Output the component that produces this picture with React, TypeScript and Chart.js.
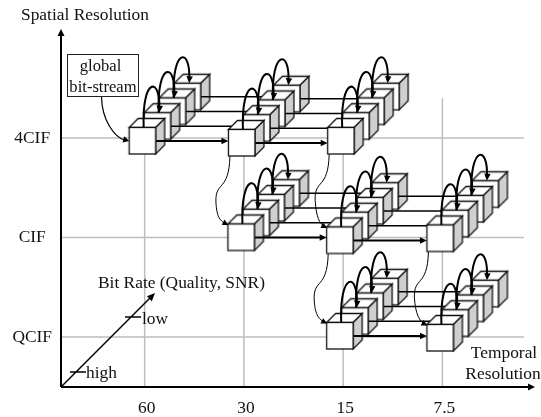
import React, { useEffect, useRef } from "react";
import { Chart, registerables } from "chart.js";

Chart.register(...registerables);

// Axis categories
const temporalLabels = ["60", "30", "15", "7.5"];
const spatialLabels = ["QCIF", "CIF", "4CIF"];

// Front (highest-rate) cube of each stack, in axis units (temporal index, spatial index)
const row4CifX = [-0.02, 0.98, 1.98];
const row4CifY = [1.97, 1.95, 1.97];
const rowCifX = [0.975, 1.97, 2.98];
const rowCifY = [1.0, 0.97, 0.99];
const rowQcifX = [1.97, 2.98];
const rowQcifY = [0.01, -0.01];

// Bit-rate (quality) layers per stack, and the step of each layer in axis units
const qualityLayers = [3, 2, 1, 0];
const layerStepX = 0.151;
const layerStepY = 0.148;

// Thin spatial down-links: [from row, from col, to row, to col]
const spatialLinks = [
  [0, 1, 1, 0],
  [0, 2, 1, 1],
  [1, 1, 2, 0],
  [1, 2, 2, 1],
];

const rowsX = [row4CifX, rowCifX, rowQcifX];
const rowsY = [row4CifY, rowCifY, rowQcifY];

const SERIF = '"Liberation Serif", "Times New Roman", serif';
const XMIN = -0.843;
const XMAX = 3.933;
const YMIN = -0.5025;
const YMAX = 3.095;

function makeCube(): HTMLCanvasElement {
  const c = document.createElement("canvas");
  c.width = 50;
  c.height = 50;
  const g = c.getContext("2d")!;
  const l = 11.5, t = 11.5, s = 26.5, dx = 9, dy = 9;
  g.lineWidth = 1.3;
  g.strokeStyle = "#111";
  g.lineJoin = "miter";
  g.fillStyle = "#fff";
  g.beginPath();
  g.moveTo(l, t);
  g.lineTo(l + dx, t - dy);
  g.lineTo(l + s + dx, t - dy);
  g.lineTo(l + s, t);
  g.closePath();
  g.fill();
  g.stroke();
  g.fillStyle = "#cfcfcf";
  g.beginPath();
  g.moveTo(l + s, t);
  g.lineTo(l + s + dx, t - dy);
  g.lineTo(l + s + dx, t + s - dy);
  g.lineTo(l + s, t + s);
  g.closePath();
  g.fill();
  g.stroke();
  g.fillStyle = "#fff";
  g.fillRect(l, t, s, s);
  g.strokeRect(l, t, s, s);
  return c;
}

function arrowHead(ctx: CanvasRenderingContext2D, fx: number, fy: number, x: number, y: number, len = 7, half = 3.2) {
  const a = Math.atan2(y - fy, x - fx);
  ctx.save();
  ctx.translate(x, y);
  ctx.rotate(a);
  ctx.beginPath();
  ctx.moveTo(0, 0);
  ctx.lineTo(-len, -half);
  ctx.lineTo(-len, half);
  ctx.closePath();
  ctx.fillStyle = "#000";
  ctx.fill();
  ctx.restore();
}

const marksPlugin = {
  id: "marks",
  afterDatasetDraw(chart: any, args: any) {
    const ds = chart.data.datasets[args.index];
    const pts = args.meta.data;
    const ctx: CanvasRenderingContext2D = chart.ctx;
    ctx.save();
    ctx.strokeStyle = "#000";
    ctx.lineCap = "butt";
    if (ds.kind === "link") {
      ctx.lineWidth = ds.weight;
      for (let i = 0; i + 1 < pts.length; i++) {
        const sx = pts[i].x + 13.5;
        const ex = pts[i + 1].x - 13.5;
        ctx.beginPath();
        ctx.moveTo(sx, pts[i].y);
        ctx.lineTo(ex - 4, pts[i].y);
        ctx.stroke();
        arrowHead(ctx, sx, pts[i].y, ex, pts[i].y);
      }
    }
    if (ds.kind === "arc") {
      ctx.lineWidth = 2;
      for (let i = 0; i + 1 < pts.length; i++) {
        const sx = pts[i].x + 1, sy = pts[i].y - 13.5;
        const ex = pts[i + 1].x + 1.5, ey = pts[i + 1].y - 13.5;
        const c1x = sx - 2, c2x = ex + 2, cy = sy - 51;
        ctx.beginPath();
        ctx.moveTo(sx, sy);
        ctx.bezierCurveTo(c1x, cy, c2x, cy, ex, ey - 3);
        ctx.stroke();
        arrowHead(ctx, c2x - 1.2, ey - 10, ex, ey);
      }
    }
    if (ds.kind === "spatial") {
      const s = { x: pts[0].x - 12, y: pts[0].y + 13.5 };
      const e = { x: pts[1].x - 13, y: pts[1].y - 12.5 };
      const mx = s.x - 14, my = s.y + 46;
      ctx.lineWidth = 1;
      ctx.beginPath();
      ctx.moveTo(s.x, s.y);
      ctx.bezierCurveTo(s.x - 1, s.y + 36, mx - 1, s.y + 24, mx, my);
      ctx.bezierCurveTo(mx + 1, my + 16, e.x - 8, e.y - 4, e.x - 2, e.y - 1);
      ctx.stroke();
      arrowHead(ctx, e.x - 8, e.y - 4, e.x, e.y, 6, 3);
    }
    ctx.restore();
  },
  afterDraw(chart: any) {
    const ctx: CanvasRenderingContext2D = chart.ctx;
    const { left, right, top, bottom } = chart.chartArea;
    const px = (v: number) => chart.scales.x.getPixelForValue(v);
    const py = (v: number) => chart.scales.y.getPixelForValue(v);
    ctx.save();
    // main axes
    ctx.strokeStyle = "#000";
    ctx.lineWidth = 2;
    ctx.beginPath();
    ctx.moveTo(left, bottom);
    ctx.lineTo(right - 5, bottom);
    ctx.moveTo(left, bottom);
    ctx.lineTo(left, top + 5);
    ctx.stroke();
    arrowHead(ctx, left, bottom, right, bottom, 7, 3.5);
    arrowHead(ctx, left, bottom, left, top, 7, 3.5);
    // bit-rate axis
    const bx = 155, by = 293;
    ctx.lineWidth = 1.5;
    ctx.beginPath();
    ctx.moveTo(left, bottom);
    ctx.lineTo(bx - 4, by + 4);
    ctx.moveTo(125, 317);
    ctx.lineTo(141, 317);
    ctx.moveTo(70, 372);
    ctx.lineTo(86, 372);
    ctx.stroke();
    arrowHead(ctx, left, bottom, bx, by, 8, 3.5);
    // global bit-stream box
    ctx.fillStyle = "#fff";
    ctx.lineWidth = 1;
    ctx.strokeStyle = "#222";
    ctx.fillRect(67.5, 54.5, 71, 42);
    ctx.strokeRect(67.5, 54.5, 71, 42);
    ctx.strokeStyle = "#000";
    ctx.lineWidth = 1.2;
    const fx = px(row4CifX[0]) - 13.5, fy = py(row4CifY[0]);
    ctx.beginPath();
    ctx.moveTo(101.5, 97);
    ctx.bezierCurveTo(102, 120, 114, 137, fx - 4, fy - 0.5);
    ctx.stroke();
    arrowHead(ctx, 118, fy - 3, fx, fy, 6, 3.2);
    // text
    ctx.fillStyle = "#111";
    ctx.textBaseline = "middle";
    ctx.textAlign = "center";
    ctx.font = `16.6px ${SERIF}`;
    ctx.fillText("global", 100.5, 66.5);
    ctx.fillText("bit-stream", 103, 88);
    ctx.font = `17.4px ${SERIF}`;
    ctx.fillText("Temporal", 504, 353);
    ctx.fillText("Resolution", 503, 374.5);
    ctx.textAlign = "left";
    ctx.fillText("Spatial Resolution", 21, 15);
    ctx.fillText("Bit Rate (Quality, SNR)", 98, 283);
    ctx.fillText("low", 142, 319);
    ctx.fillText("high", 86, 373);
    ctx.restore();
  },
};

export default function App() {
  const ref = useRef<HTMLCanvasElement>(null);
  useEffect(() => {
    document.body.style.margin = "0";
    const cube = makeCube();
    const datasets: any[] = [];
    let order = 10000;
    const push = (d: any) => datasets.push({ pointRadius: 0, showLine: false, order: order--, ...d });

    const gridStyle = { showLine: true, borderColor: "#bdbdbd", borderWidth: 1.5 };
    spatialLabels.forEach((_, j) =>
      push({ ...gridStyle, data: [{ x: XMIN, y: j }, { x: 3.82, y: j }] })
    );
    temporalLabels.forEach((_, i) =>
      push({ ...gridStyle, data: [{ x: i, y: YMIN }, { x: i, y: i === 3 ? 2.4 : 2 }] })
    );

    const at = (r: number, c: number, k: number) => ({
      x: rowsX[r][c] + k * layerStepX,
      y: rowsY[r][c] + k * layerStepY,
    });

    rowsX.forEach((xs, r) => {
      qualityLayers.forEach((k) => {
        const data = xs.map((_, c) => at(r, c, k));
        push({ data, pointStyle: cube, pointRadius: 5 });
        push({ data, kind: "link", weight: k === 0 ? 2 : 1.5 });
      });
      xs.forEach((_, c) => {
        push({ kind: "arc", data: [...qualityLayers].reverse().map((k) => at(r, c, k)) });
      });
    });
    spatialLinks.forEach(([r0, c0, r1, c1]) => {
      push({ kind: "spatial", data: [at(r0, c0, 0), at(r1, c1, 0)] });
    });

    const tickFont = { family: SERIF, size: 17.4 };
    const chart = new Chart(ref.current!, {
      type: "scatter",
      data: { datasets },
      plugins: [marksPlugin],
      options: {
        animation: false,
        responsive: false,
        layout: { padding: { top: 29, right: 4, left: 0, bottom: 0 } },
        plugins: { legend: { display: false }, tooltip: { enabled: false } },
        scales: {
          x: {
            type: "linear",
            min: XMIN,
            max: XMAX,
            grid: { display: false },
            border: { display: false },
            afterFit: (s: any) => { s.height = 30; },
            afterBuildTicks: (s: any) => { s.ticks = temporalLabels.map((_, i) => ({ value: i })); },
            ticks: {
              autoSkip: false,
              maxRotation: 0,
              padding: 3,
              labelOffset: 2,
              color: "#111",
              font: tickFont,
              callback: (v: any) => temporalLabels[v],
            },
          },
          y: {
            type: "linear",
            min: YMIN,
            max: YMAX,
            grid: { display: false },
            border: { display: false },
            afterFit: (s: any) => { s.width = 61; },
            afterBuildTicks: (s: any) => { s.ticks = spatialLabels.map((_, i) => ({ value: i })); },
            ticks: {
              autoSkip: false,
              padding: 1,
              crossAlign: "center",
              color: "#111",
              font: tickFont,
              callback: (v: any) => spatialLabels[v],
            },
          },
        },
      },
    } as any);
    return () => chart.destroy();
  }, []);
  return (
    <canvas
      ref={ref}
      width={541}
      height={417}
      style={{ position: "fixed", left: 0, top: 0, width: 541, height: 417, display: "block" }}
    />
  );
}
